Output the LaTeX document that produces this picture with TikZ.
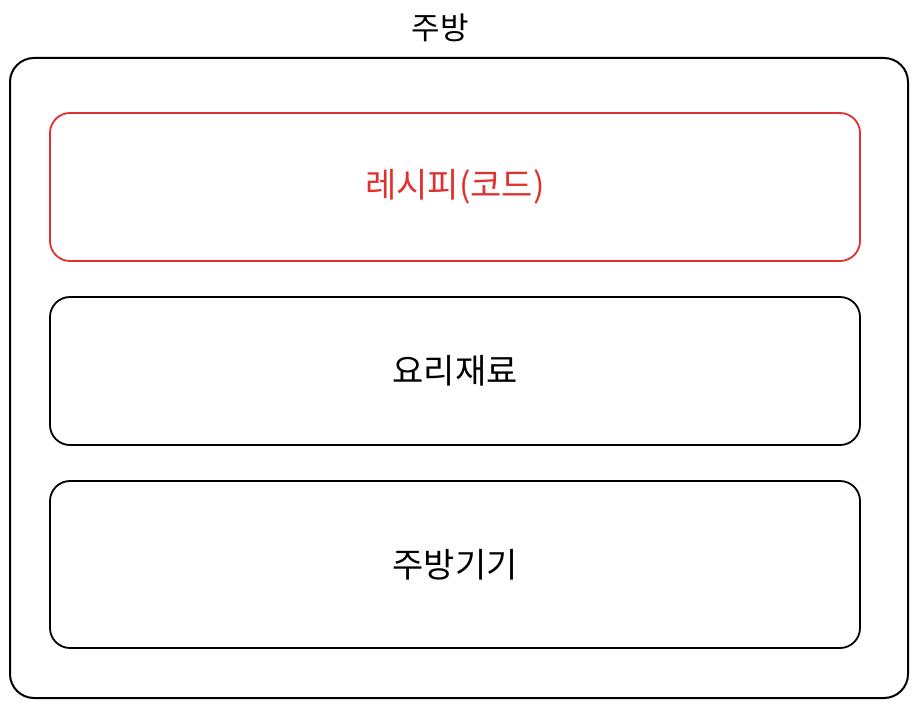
\documentclass[tikz,border=0pt]{standalone}
\usepackage{fontspec}
\newfontfamily\kofont{Noto Sans CJK KR}
\definecolor{recipered}{HTML}{E03131}
\tikzset{every picture/.style={/utils/exec={\kofont}}}
\tikzset{frame/.style={draw,line width=2pt,rounded corners=24pt}}
\tikzset{layer/.style={draw,line width=1.8pt,rounded corners=20pt,minimum width=810pt,font=\fontsize{34}{40}\selectfont}}

\begin{document}
\begin{tikzpicture}[x=1pt,y=-1pt]
    \useasboundingbox (0,0) rectangle (918,708);
    \node [frame,minimum width=898pt,minimum height=640pt] (kitchen) at (459,378) {};
    \node [font=\fontsize{31}{36}\selectfont] (title) at (440,28) {주방};
    \node [layer,recipered,minimum height=148pt] (recipe) at (455,187) {레시피(코드)};
    \node [layer,minimum height=148pt] (ingredients) at (455,371) {요리재료};
    \node [layer,minimum height=167pt] (tools) at (455,564.5) {주방기기};
\end{tikzpicture}
\end{document}
